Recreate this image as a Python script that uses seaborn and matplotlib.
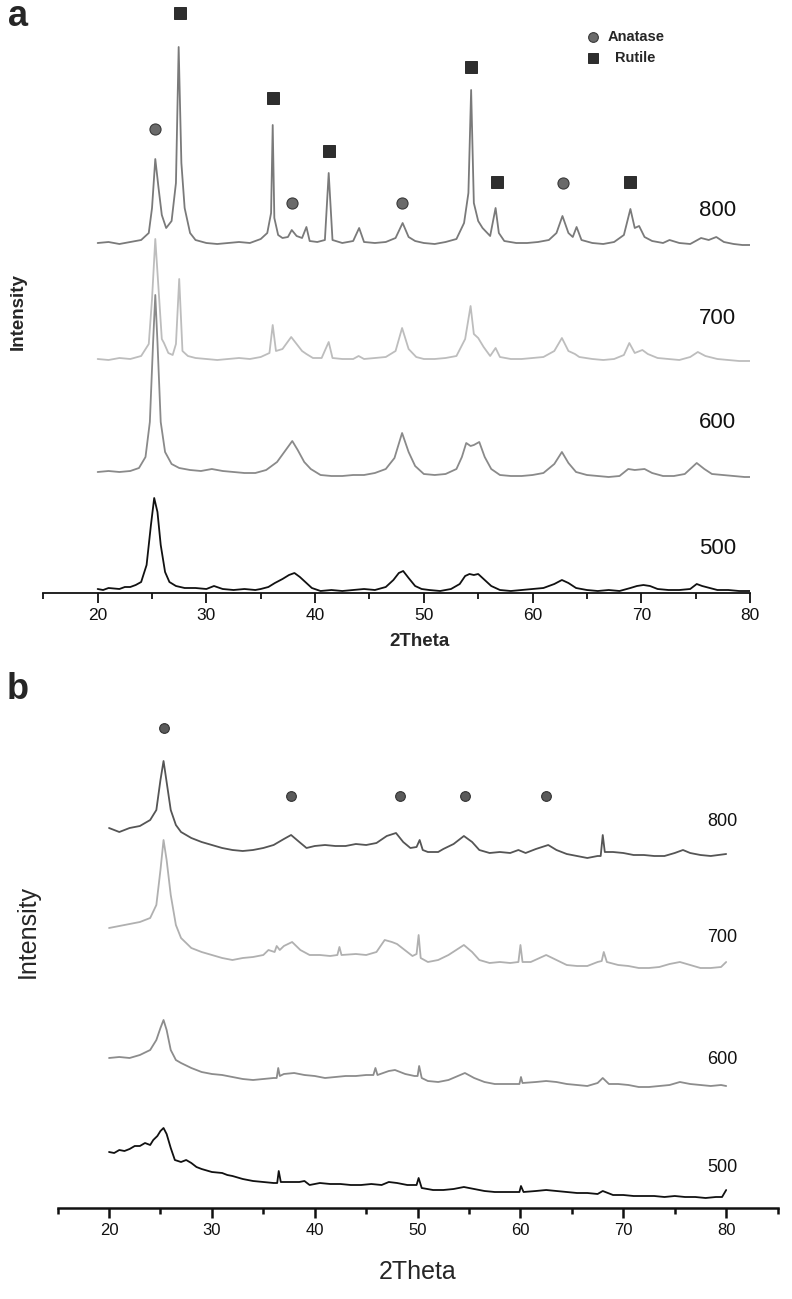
import numpy as np
import pandas as pd
import matplotlib
matplotlib.use("Agg")
import matplotlib.pyplot as plt
import seaborn as sns

# ---------------- panel a : XRD patterns (2theta, intensity above own baseline) ----------------
a800_x = [20, 21, 22, 23, 24, 24.7, 25.0, 25.3, 25.6, 25.9, 26.3, 26.8, 27.2, 27.45, 27.7, 28.0, 28.5, 29, 30, 31,
          32, 33, 34, 35, 35.6, 35.95, 36.1, 36.25, 36.6, 37.0, 37.5, 37.85, 38.3, 38.8, 39.2, 39.5, 40.2, 40.9,
          41.25, 41.6, 42.5, 43.5, 44.05, 44.5, 45.5, 46.5, 47.4, 48.05, 48.6, 49.2, 50, 51, 52, 53, 53.7, 54.1,
          54.35, 54.6, 55.0, 55.4, 56.1, 56.6, 56.9, 57.4, 58.5, 59.5, 60.5, 61.5, 62.2, 62.75, 63.3, 63.7, 64.05,
          64.5, 65.5, 66.5, 67.5, 68.4, 69.0, 69.4, 69.8, 70.3, 71, 72, 72.6, 73.5, 74.5, 75.5, 76.2, 76.9, 77.6,
          78.5, 79.3, 80]
a800_y = [0, 1, -1, 1, 3, 10, 35, 84, 55, 28, 15, 22, 60, 196, 80, 35, 10, 3, 0, -1,
          0, 1, 0, 4, 10, 30, 118, 25, 8, 5, 6, 13, 7, 5, 16, 2, 1, 3,
          70, 3, 0, 2, 15, 1, 0, 1, 5, 20, 6, 2, 0, -1, 1, 4, 20, 50,
          153, 40, 22, 15, 7, 35, 10, 2, 0, 0, 1, 3, 10, 27, 10, 6, 16,
          3, 0, -1, 1, 8, 34, 15, 17, 6, 2, 0, 3, 0, -1, 5, 3, 6, 1,
          -1, -2, -2]

a700_x = [20, 21, 22, 23, 24, 24.7, 25.0, 25.3, 25.6, 25.9, 26.1, 26.5, 26.9, 27.2, 27.5, 27.8, 28.3, 29, 30, 31,
          32, 33, 34, 35, 35.8, 36.1, 36.4, 37.0, 37.8, 38.3, 38.8, 39.2, 39.8, 40.6, 41.25, 41.6, 42.5, 43.5,
          44.0, 44.5, 45.5, 46.5, 47.4, 48.0, 48.6, 49.3, 50, 51, 52, 53, 53.8, 54.3, 54.6, 55.0, 55.5, 56.1,
          56.6, 57.0, 58, 59, 60, 61, 62.0, 62.7, 63.3, 63.9, 64.3, 65.5, 66.5, 67.5, 68.4, 68.9, 69.4, 70.1,
          70.6, 71.5, 72.5, 73.5, 74.5, 75.2, 75.9, 77, 78, 79, 80]
a700_y = [0, -1, 1, 0, 3, 15, 60, 120, 70, 20, 16, 6, 4, 15, 80, 8, 3, 1, 0, -1,
          0, 1, 0, 2, 6, 34, 8, 10, 22, 15, 8, 5, 1, 1, 17, 1, 0, 0,
          3, 0, 1, 2, 8, 31, 10, 2, 0, 0, 1, 3, 20, 53, 25, 21, 12, 3,
          11, 2, 0, 0, 1, 2, 8, 21, 8, 5, 2, 0, -1, 0, 4, 16, 6, 9,
          5, 1, 0, -1, 2, 7, 3, 0, -1, -2, -2]

a600_x = [20, 21, 22, 23, 23.8, 24.4, 24.8, 25.1, 25.3, 25.5, 25.8, 26.2, 26.8, 27.5, 28.5, 29.5, 30.5, 31.5, 32.5,
          33.5, 34.5, 35.5, 36.5, 37.3, 37.9, 38.4, 39.0, 39.6, 40.5, 41.5, 42.5, 43.5, 44.5, 45.5, 46.5, 47.3,
          48.0, 48.6, 49.2, 50, 51, 52, 53, 53.5, 53.9, 54.3, 54.6, 55.1, 55.6, 56.2, 57, 58, 59, 60, 61, 62.0,
          62.7, 63.3, 64, 65, 66, 67, 68, 68.8, 69.4, 70.3, 71, 72, 73, 74, 75.1, 75.8, 76.5, 77.5, 78.5, 79.5, 80]
a600_y = [0, 1, 0, 1, 4, 15, 50, 130, 177, 130, 50, 20, 8, 4, 2, 1, 3, 1, 0,
          -1, -1, 2, 10, 22, 31, 22, 10, 3, -3, -4, -4, -3, -3, -1, 3, 14,
          39, 20, 6, -2, -3, -2, 3, 15, 29, 26, 27, 30, 15, 3, -3, -4, -4, -3, -1, 8,
          20, 9, 0, -3, -4, -5, -4, 3, 2, 3, -1, -4, -4, -2, 9, 3, -2, -3, -4, -5, -5]

a500_x = [20, 20.5, 21, 22, 22.5, 23, 23.5, 24.0, 24.5, 24.9, 25.2, 25.5, 25.8, 26.2, 26.6, 27.2, 28, 29, 30, 30.7,
          31.5, 32.5, 33.5, 34.5, 35, 35.7, 36.3, 37.0, 37.6, 38.1, 38.6, 39.2, 39.7, 40.5, 41.5, 42.5, 43.5, 44.5,
          45.5, 46.5, 47.2, 47.7, 48.1, 48.6, 49.2, 49.8, 50.5, 51.5, 52.5, 53.3, 53.8, 54.2, 54.6, 55.0, 55.5,
          56.2, 57, 58, 59, 60, 61, 62.0, 62.7, 63.3, 64.0, 65, 66, 67, 68, 69, 69.6, 70.2, 70.8, 71.5, 72.5,
          73.5, 74.5, 75.1, 75.6, 76.3, 77, 78, 79, 80]
a500_y = [1, 0, 2, 1, 3, 3, 5, 8, 25, 65, 92, 78, 45, 18, 8, 4, 2, 2, 1, 4,
          1, 0, 1, 0, 1, 3, 7, 11, 15, 17, 13, 7, 2, -1, 0, -1, 0, 1,
          0, 3, 10, 17, 19, 12, 4, 1, 0, -1, 1, 6, 14, 16, 15, 16, 11,
          4, 0, -1, 0, 1, 2, 6, 10, 7, 2, 0, -1, 0, -1, 2, 4, 5, 4, 1, 0,
          0, 1, 6, 4, 2, 0, 0, -1, -1]

# phase markers, panel a (2theta, marker height)
anatase_a_x = [25.3, 37.9, 48.0, 62.8]
anatase_a_y = [464, 390, 390, 410]
rutile_a_x = [27.6, 36.15, 41.3, 54.35, 56.7, 69.0]
rutile_a_y = [580, 495, 442, 526, 411, 411]

# ---------------- panel b ----------------
b800_x = [20, 21, 22, 23, 24, 24.6, 25.0, 25.3, 25.6, 26.0, 26.5, 27, 28, 29, 30, 31, 32, 33, 34, 35, 36, 37, 37.7,
          38.5, 39.2, 40, 41, 42, 43, 44, 45, 46, 47, 47.9, 48.6, 49.3, 49.9, 50.2, 50.5, 51, 52, 52.5, 53.5, 54.5,
          55.3, 56, 57, 58, 59, 59.8, 60.5, 61.5, 62.7, 63.5, 64.5, 65.5, 66.5, 67.5, 67.8, 68.0, 68.2, 69, 70, 71,
          72, 73, 74, 75, 75.8, 76.5, 77.5, 78.5, 80]
b800_y = [0, -4, 0, 2, 8, 18, 48, 67, 46, 18, 3, -4, -10, -14, -17, -20, -22, -23, -22, -20, -17, -11, -7,
          -14, -20, -18, -17, -18, -18, -16, -17, -15, -8, -5, -14, -20, -19, -12, -22, -24, -24, -21, -16, -8,
          -14, -22, -25, -24, -25, -22, -25, -21, -17, -22, -26, -28, -30, -28, -28, -7, -24, -24, -25, -27,
          -27, -28, -28, -25, -22, -25, -27, -28, -26]

b700_x = [20, 21, 22, 23, 24, 24.6, 25.0, 25.3, 25.6, 26.0, 26.5, 27, 28, 29, 30, 31, 32, 33, 34, 35, 35.5, 36.1,
          36.3, 36.6, 37, 37.8, 38.6, 39.5, 40.5, 41.5, 42.2, 42.4, 42.6, 44, 45, 46, 46.8, 47.5, 48.0, 48.5,
          49.5, 49.9, 50.1, 50.3, 51, 52, 53, 54.5, 55.3, 56, 57, 58, 59, 59.8, 60.0, 60.2, 61, 62.5, 63.5, 64.5,
          65.5, 66.5, 67.5, 67.9, 68.1, 68.4, 69.5, 70.5, 71.5, 72.5, 73.5, 74.5, 75.5, 76.5, 77.5, 78.5, 79.5, 80]
b700_y = [0, 2, 4, 6, 10, 23, 58, 88, 68, 33, 3, -10, -20, -24, -27, -30, -32, -30, -29, -27, -22, -24,
          -18, -22, -18, -14, -22, -27, -27, -28, -27, -19, -27, -26, -27, -24, -12, -14, -16, -20,
          -28, -26, -7, -30, -34, -32, -27, -17, -24, -32, -35, -34, -35, -34, -17, -34, -34, -27, -32, -37,
          -38, -38, -34, -33, -24, -34, -37, -38, -40, -40, -39, -36, -34, -37, -40, -40, -39, -34]

b600_x = [20, 21, 22, 23, 24, 24.6, 25.0, 25.3, 25.6, 26.0, 26.5, 27, 28, 29, 30, 31, 32, 33, 34, 35, 36, 36.3,
          36.45, 36.6, 37, 38, 39, 40, 41, 42, 43, 44, 45, 45.7, 45.9, 46.1, 47.2, 47.8, 48.8, 49.7, 50.0, 50.15,
          50.4, 51, 52, 53, 54.6, 55.5, 56.5, 57.5, 58.5, 59.5, 59.9, 60.05, 60.2, 61.5, 62.5, 63.5, 64.5, 65.5,
          66.5, 67.5, 68.0, 68.6, 69.5, 70.5, 71.5, 72.5, 73.5, 74.5, 75.5, 76.5, 77.5, 78.5, 79.5, 80]
b600_y = [0, 1, 0, 3, 8, 18, 30, 38, 28, 8, -2, -5, -10, -14, -16, -17, -19, -21, -22, -21, -20, -20,
          -10, -18, -16, -15, -17, -18, -20, -19, -18, -18, -17, -17, -10, -17, -13, -12, -16, -18, -18, -8,
          -20, -23, -24, -22, -15, -20, -24, -26, -26, -26, -26, -19, -25, -24, -23, -24, -26, -27,
          -28, -25, -20, -26, -26, -27, -29, -29, -28, -27, -24, -26, -27, -28, -27, -28]

b500_x = [20, 20.5, 21, 21.5, 22, 22.5, 23, 23.5, 24, 24.3, 24.7, 25.0, 25.3, 25.6, 26.0, 26.4, 27, 27.5, 28, 28.5,
          29, 30, 31, 31.5, 32, 33, 34, 35, 36, 36.35, 36.5, 36.7, 37.5, 38.5, 39, 39.5, 40.5, 41.5, 42.5, 43.5,
          44.5, 45.5, 46.5, 47.2, 48, 49, 49.9, 50.1, 50.4, 51.5, 52.5, 53.5, 54.5, 55.5, 56.5, 57.5, 58.5, 59.5,
          59.9, 60.05, 60.3, 61.5, 62.5, 63.5, 64.5, 65.5, 66.5, 67.5, 68.0, 69, 70, 71, 72, 73, 74, 75, 76, 77,
          78, 79, 79.6, 80]
b500_y = [0, -1, 2, 1, 3, 6, 6, 9, 7, 12, 16, 21, 24, 18, 4, -8, -10, -8, -11, -15,
          -17, -20, -21, -23, -24, -27, -29, -30, -31, -31, -19, -30, -30, -30, -29, -33, -31, -32, -32, -33,
          -33, -32, -33, -30, -31, -33, -33, -26, -36, -38, -38, -37, -35, -37, -39, -40, -40, -40,
          -40, -34, -40, -39, -38, -39, -40, -41, -41, -42, -39, -43, -43, -44, -44, -44, -45, -44, -45, -45,
          -46, -45, -45, -38]

anatase_b_x = [25.3, 37.7, 48.3, 54.6, 62.5]
anatase_b_y = [480, 412, 412, 412, 412]

samples = ["800", "700", "600", "500"]

# layout (vertical stacking offsets, colours)
offsets_a = {"800": 350, "700": 234, "600": 121, "500": 3}
offsets_b = {"800": 380, "700": 280, "600": 150, "500": 56}
colors_a = {"800": "#7a7a7a", "700": "#bdbdbd", "600": "#8a8a8a", "500": "#111111"}
colors_b = {"800": "#555555", "700": "#b0b0b0", "600": "#8c8c8c", "500": "#111111"}


def stack(curves, offsets):
    frames = []
    for name, (xs, ys) in curves.items():
        frames.append(pd.DataFrame({"two_theta": xs,
                                    "intensity": np.array(ys) + offsets[name],
                                    "sample": name}))
    return pd.concat(frames, ignore_index=True)


df_a = stack({"800": (a800_x, a800_y), "700": (a700_x, a700_y),
              "600": (a600_x, a600_y), "500": (a500_x, a500_y)}, offsets_a)
df_b = stack({"800": (b800_x, b800_y), "700": (b700_x, b700_y),
              "600": (b600_x, b600_y), "500": (b500_x, b500_y)}, offsets_b)

sns.set_style("ticks")
plt.rcParams["font.family"] = ["Liberation Sans", "DejaVu Sans"]

W, H = 792, 1299
fig = plt.figure(figsize=(W / 100, H / 100), dpi=100)


def px_box(x0, x1, y_bottom, y_top):
    return [x0 / W, 1 - y_bottom / H, (x1 - x0) / W, (y_bottom - y_top) / H]


def style_axis(ax, lw, xmax, labelsize):
    for side in ["left", "right", "top"]:
        ax.spines[side].set_visible(False)
    ax.spines["bottom"].set_linewidth(lw)
    ax.spines["bottom"].set_color("#111111")
    ax.set_yticks([])
    ax.set_xticks(range(20, 81, 10))
    ax.set_xticks(range(15, xmax + 1, 10), minor=True)
    ax.tick_params(axis="x", which="major", bottom=True, direction="out", length=7, width=lw,
                   colors="#111111", labelsize=labelsize, pad=4)
    ax.tick_params(axis="x", which="minor", bottom=True, direction="out", length=4, width=lw,
                   colors="#111111")
    ax.set_xlim(15, xmax)
    ax.set_xlabel("")
    ax.set_ylabel("")
    ax.patch.set_alpha(0)


# ---- panel a ----
ax_a = fig.add_axes(px_box(43.3, 750, 593, 0))
sns.lineplot(data=df_a, x="two_theta", y="intensity", hue="sample", hue_order=samples,
             palette=colors_a, estimator=None, sort=False, legend=False, linewidth=1.3, ax=ax_a)
ax_a.set_ylim(0, 593)
style_axis(ax_a, 1.3, 80, 12.5)
ax_a.plot(anatase_a_x, anatase_a_y, "o", ms=8, color="#6a6a6a", mec="#3a3a3a", mew=0.8, clip_on=False)
ax_a.plot(rutile_a_x, rutile_a_y, "s", ms=8.5, color="#2e2e2e", mec="#1a1a1a", mew=0.6, clip_on=False)
# legend
ax_a.plot([65.6], [556], "o", ms=7, color="#6a6a6a", mec="#3a3a3a", mew=0.8)
ax_a.plot([65.6], [535], "s", ms=7.5, color="#2e2e2e", mec="#1a1a1a", mew=0.6)
ax_a.text(66.9, 556, "Anatase", fontsize=10.5, fontweight="bold", ha="left", va="center")
ax_a.text(67.6, 535, "Rutile", fontsize=10.5, fontweight="bold", ha="left", va="center")
label_y_a = {"800": 383, "700": 275, "600": 170, "500": 45}
for s in samples:
    ax_a.text(77.0, label_y_a[s], s, fontsize=16, ha="center", va="center", color="#111111")

fig.text(18 / W, 1 - 17 / H, "a", fontsize=26, fontweight="bold", ha="center", va="center")
fig.text(18 / W, 1 - 312 / H, "Intensity", fontsize=13.5, fontweight="bold", rotation=90,
         ha="center", va="center")
fig.text(420 / W, 1 - 641 / H, "2Theta", fontsize=13.5, fontweight="bold", ha="center", va="center")

# ---- panel b ----
ax_b = fig.add_axes(px_box(57.6, 777.6, 1208, 700))
sns.lineplot(data=df_b, x="two_theta", y="intensity", hue="sample", hue_order=samples,
             palette=colors_b, estimator=None, sort=False, legend=False, linewidth=1.3, ax=ax_b)
ax_b.set_ylim(0, 508)
style_axis(ax_b, 1.8, 85, 12)
ax_b.plot(anatase_b_x, anatase_b_y, "o", ms=7, color="#5a5a5a", mec="#333333", mew=0.8, clip_on=False)
label_y_b = {"800": 386, "700": 270, "600": 148, "500": 40}
for s in samples:
    ax_b.text(79.6, label_y_b[s], s, fontsize=13, ha="center", va="center", color="#111111")

fig.text(18 / W, 1 - 690 / H, "b", fontsize=26, fontweight="bold", ha="center", va="center")
fig.text(28 / W, 1 - 932 / H, "Intensity", fontsize=18, rotation=90, ha="center", va="center")
fig.text(418 / W, 1 - 1272 / H, "2Theta", fontsize=18, ha="center", va="center")

fig.savefig("out.png", dpi=100)
